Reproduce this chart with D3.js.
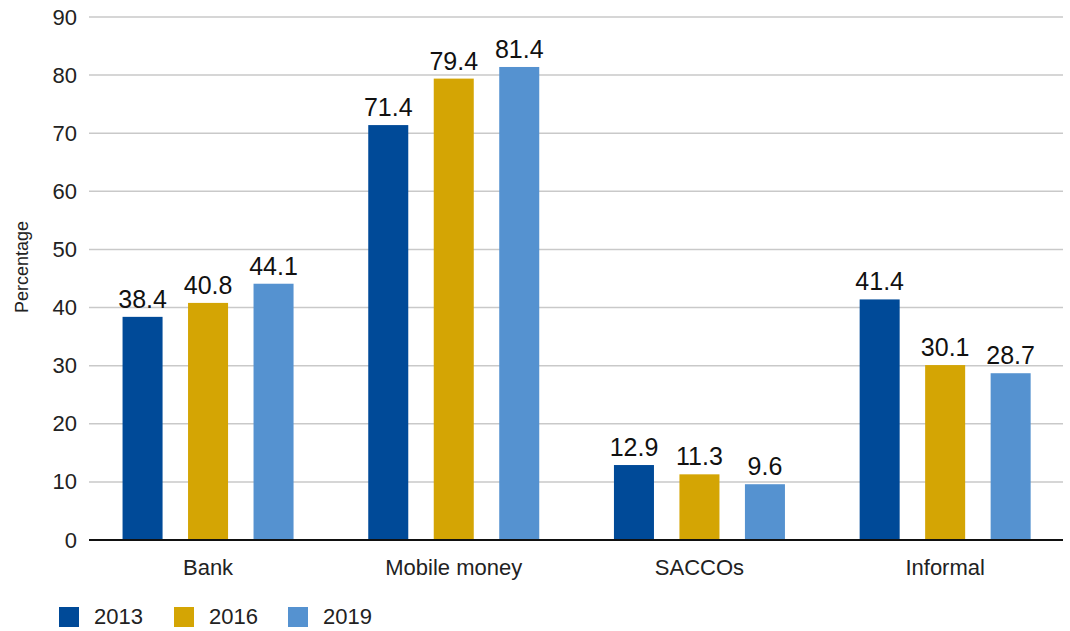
<!DOCTYPE html>
<html>
<head>
<meta charset="utf-8">
<script src="https://cdn.jsdelivr.net/npm/d3@7"></script>
<style>
  html, body { margin: 0; padding: 0; background: #fff; }
  svg { display: block; font-family: "Liberation Sans", Arial, Helvetica, sans-serif; }
</style>
</head>
<body>
<svg id="chart" width="1070" height="631"></svg>
<script>
const categories = ["Bank", "Mobile money", "SACCOs", "Informal"];
const seriesNames = ["2013", "2016", "2019"];
const values2013 = [38.4, 71.4, 12.9, 41.4];
const values2016 = [40.8, 79.4, 11.3, 30.1];
const values2019 = [44.1, 81.4, 9.6, 28.7];
const seriesColors = ["#004a98", "#d4a504", "#5592d0"];
const yTicks = [0, 10, 20, 30, 40, 50, 60, 70, 80, 90];
const yLabel = "Percentage";

const seriesValues = [values2013, values2016, values2019];

const svg = d3.select("#chart");
const gridLeft = 89, gridRight = 1063;
const yTop = 17, yBottom = 540;

const y = d3.scaleLinear().domain([0, 90]).range([yBottom, yTop]);
const x0 = d3.scaleBand().domain(categories).range([85.2, 1068]).padding(0);
const x1 = d3.scaleBand().domain(seriesNames).range([-85.5, 85.5]).paddingInner(0.389).paddingOuter(0);
const color = d3.scaleOrdinal().domain(seriesNames).range(seriesColors);

// gridlines
svg.append("g").selectAll("line").data(yTicks.filter(t => t > 0)).join("line")
  .attr("x1", gridLeft).attr("x2", gridRight)
  .attr("y1", d => y(d)).attr("y2", d => y(d))
  .attr("stroke", "#c9c9c9").attr("stroke-width", 1.5);

// y tick labels
const yAxis = d3.axisLeft(y).tickValues(yTicks).tickSize(0).tickPadding(12);
const yg = svg.append("g").attr("transform", `translate(${gridLeft},0)`).call(yAxis);
yg.select(".domain").remove();
yg.selectAll("text").attr("font-size", 22).attr("fill", "#222")
  .attr("font-family", "'Liberation Sans', Arial, sans-serif");

// bars
const groups = svg.append("g").selectAll("g").data(categories).join("g")
  .attr("transform", d => `translate(${x0(d) + x0.bandwidth() / 2},0)`);

groups.each(function(cat, ci) {
  const g = d3.select(this);
  const data = seriesNames.map((s, si) => ({ s, v: seriesValues[si][ci] }));
  g.selectAll("rect").data(data).join("rect")
    .attr("x", d => x1(d.s)).attr("width", x1.bandwidth())
    .attr("y", d => y(d.v)).attr("height", d => y(0) - y(d.v))
    .attr("fill", d => color(d.s));
  g.selectAll("text.val").data(data).join("text").attr("class", "val")
    .attr("x", d => x1(d.s) + x1.bandwidth() / 2)
    .attr("y", d => y(d.v) - 9)
    .attr("text-anchor", "middle")
    .attr("font-size", 25).attr("fill", "#111")
    .text(d => d.v.toFixed(1));
});

// x axis line
svg.append("line").attr("x1", gridLeft).attr("x2", gridRight)
  .attr("y1", y(0)).attr("y2", y(0)).attr("stroke", "#111").attr("stroke-width", 2);

// category labels
const xAxis = d3.axisBottom(x0).tickSize(0).tickPadding(19);
const xg = svg.append("g").attr("transform", `translate(0,${y(0)})`).call(xAxis);
xg.select(".domain").remove();
xg.selectAll("text").attr("font-size", 22).attr("fill", "#222")
  .attr("font-family", "'Liberation Sans', Arial, sans-serif");

// y label
svg.append("text").attr("transform", "translate(28,267) rotate(-90)")
  .attr("text-anchor", "middle").attr("font-size", 18).attr("fill", "#222")
  .text(yLabel);

// legend
const legendX = [59, 174, 288];
const lg = svg.append("g").selectAll("g").data(seriesNames).join("g")
  .attr("transform", (d, i) => `translate(${legendX[i]},607)`);
lg.append("rect").attr("width", 20).attr("height", 20).attr("fill", d => color(d));
lg.append("text").attr("x", 35).attr("y", 17).attr("font-size", 22).attr("fill", "#222").text(d => d);
</script>
</body>
</html>
